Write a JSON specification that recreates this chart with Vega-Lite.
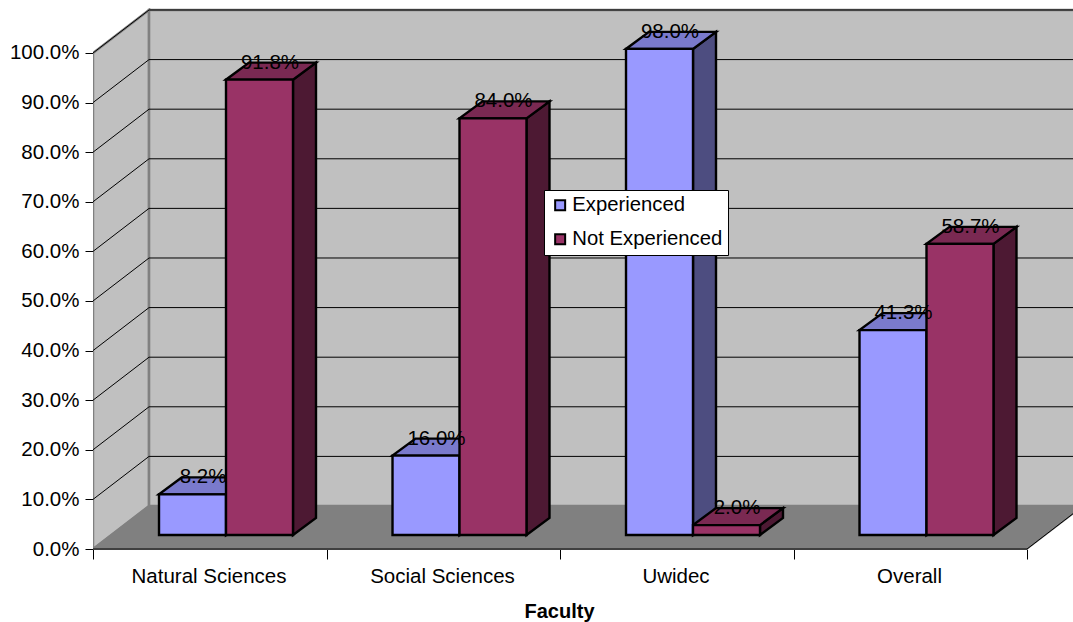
{
  "$schema": "https://vega.github.io/schema/vega-lite/v6.json",
  "width": 980,
  "height": 541,
  "autosize": "none",
  "padding": {"left": 93, "top": 8, "right": 0, "bottom": 73},
  "background": "white",
  "config": {
    "view": {"stroke": null},
    "font": "Liberation Sans"
  },
  "datasets": {
    "bars": [
      {"faculty": "Natural Sciences", "series": "Experienced", "value": 0.082},
      {"faculty": "Natural Sciences", "series": "Not Experienced", "value": 0.918},
      {"faculty": "Social Sciences", "series": "Experienced", "value": 0.16},
      {"faculty": "Social Sciences", "series": "Not Experienced", "value": 0.84},
      {"faculty": "Uwidec", "series": "Experienced", "value": 0.98},
      {"faculty": "Uwidec", "series": "Not Experienced", "value": 0.02},
      {"faculty": "Overall", "series": "Experienced", "value": 0.413},
      {"faculty": "Overall", "series": "Not Experienced", "value": 0.587}
    ],
    "levels": [
      {"level": 0.1}, {"level": 0.2}, {"level": 0.3}, {"level": 0.4}, {"level": 0.5},
      {"level": 0.6}, {"level": 0.7}, {"level": 0.8}, {"level": 0.9}, {"level": 1.0}
    ],
    "depth": [{"t": 0}, {"t": 1}]
  },
  "layer": [
    {
      "description": "Left wall of the box, sheared back by the chart depth",
      "data": {"name": "depth"},
      "transform": [
        {"calculate": "datum.t * 0.24", "as": "wx"},
        {"calculate": "datum.t * 0.0867", "as": "wy0"},
        {"calculate": "1 + datum.t * 0.0867", "as": "wy1"}
      ],
      "mark": {"type": "area", "fill": "#C0C0C0", "stroke": "#808080", "strokeWidth": 2.5, "clip": true},
      "encoding": {
        "x": {
          "field": "wx",
          "type": "quantitative",
          "scale": {"domain": [0, 4.197], "nice": false, "zero": false},
          "axis": {
            "title": "Faculty",
            "titleFont": "Liberation Sans",
            "titleFontSize": 20,
            "titleFontWeight": "bold",
            "titleColor": "#000000",
            "titlePadding": 15,
            "titleX": 466,
            "titleAnchor": "middle",
            "titleAlign": "center",
            "values": [0, 1, 2, 3, 4],
            "domain": false,
            "grid": false,
            "tickColor": "#000000",
            "tickSize": 10,
            "labelFont": "Liberation Sans",
            "labelFontSize": 20.5,
            "labelColor": "#000000",
            "labelPadding": 7,
            "labelOffset": 115.5,
            "labelBound": false,
            "labelFlush": false,
            "labelOverlap": false,
            "labelExpr": "['Natural Sciences','Social Sciences','Uwidec','Overall',''][datum.value]"
          }
        },
        "y": {
          "field": "wy0",
          "type": "quantitative",
          "stack": null,
          "scale": {"domain": [0, 1.0907], "nice": false, "zero": false},
          "axis": {
            "title": null,
            "values": [0, 0.1, 0.2, 0.3, 0.4, 0.5, 0.6, 0.7, 0.8, 0.9, 1],
            "format": ".1%",
            "domain": false,
            "grid": false,
            "tickColor": "#000000",
            "tickSize": 8,
            "labelFont": "Liberation Sans",
            "labelFontSize": 20.5,
            "labelColor": "#000000",
            "labelPadding": 6
          }
        },
        "y2": {"field": "wy1"}
      }
    },
    {
      "description": "Back wall",
      "data": {"values": [{"x0": 0.24, "x1": 4.24, "y0": 0.0867, "y1": 1.0867}]},
      "mark": {"type": "rect", "fill": "#C0C0C0", "stroke": "#808080", "strokeWidth": 2.5, "clip": true},
      "encoding": {
        "x": {"field": "x0", "type": "quantitative"},
        "x2": {"field": "x1"},
        "y": {"field": "y0", "type": "quantitative"},
        "y2": {"field": "y1"}
      }
    },
    {
      "description": "Floor of the box",
      "data": {"name": "depth"},
      "transform": [
        {"calculate": "datum.t * 0.24", "as": "fx0"},
        {"calculate": "4 + datum.t * 0.24", "as": "fx1"},
        {"calculate": "datum.t * 0.0867", "as": "fy"}
      ],
      "mark": {"type": "area", "orient": "horizontal", "fill": "#808080", "stroke": "#808080", "strokeWidth": 1.5, "clip": true},
      "encoding": {
        "x": {"field": "fx0", "type": "quantitative", "stack": null},
        "x2": {"field": "fx1"},
        "y": {"field": "fy", "type": "quantitative"}
      }
    },
    {
      "description": "Gridlines running back along the left wall",
      "data": {"name": "levels"},
      "transform": [
        {"calculate": "0", "as": "front"},
        {"calculate": "0.24", "as": "wall"},
        {"calculate": "datum.level + 0.0867", "as": "back"}
      ],
      "mark": {"type": "rule", "color": "#000000", "strokeWidth": 1},
      "encoding": {
        "x": {"field": "front", "type": "quantitative"},
        "x2": {"field": "wall"},
        "y": {"field": "level", "type": "quantitative"},
        "y2": {"field": "back"}
      }
    },
    {
      "description": "Gridlines across the back wall",
      "data": {"name": "levels"},
      "transform": [
        {"calculate": "0.24", "as": "wall"},
        {"calculate": "4.24", "as": "end"},
        {"calculate": "datum.level + 0.0867", "as": "back"}
      ],
      "mark": {"type": "rule", "color": "#000000", "strokeWidth": 1, "clip": true},
      "encoding": {
        "x": {"field": "wall", "type": "quantitative"},
        "x2": {"field": "end"},
        "y": {"field": "back", "type": "quantitative"}
      }
    },
    {
      "description": "Front edge of the floor",
      "data": {"values": [{"level": 0, "x0": 0, "x1": 4}]},
      "mark": {"type": "rule", "color": "#404040", "strokeWidth": 2},
      "encoding": {
        "x": {"field": "x0", "type": "quantitative"},
        "x2": {"field": "x1"},
        "y": {"field": "level", "type": "quantitative"}
      }
    },
    {
      "description": "Right edge of the floor",
      "data": {"values": [{"level": 0, "back": 0.0867, "x0": 4, "x1": 4.24}]},
      "mark": {"type": "rule", "color": "#000000", "strokeWidth": 1, "clip": true},
      "encoding": {
        "x": {"field": "x0", "type": "quantitative"},
        "x2": {"field": "x1"},
        "y": {"field": "level", "type": "quantitative"},
        "y2": {"field": "back"}
      }
    },
    {
      "description": "Bars: side faces, then tops, then fronts, then value labels",
      "data": {"name": "bars"},
      "transform": [
        {"calculate": "indexof(['Natural Sciences','Social Sciences','Uwidec','Overall'], datum.faculty)", "as": "i"},
        {"calculate": "datum.series === 'Experienced' ? 0 : 1", "as": "s"},
        {"calculate": "datum.i + 0.2827 + datum.s * 0.2869", "as": "xl"},
        {"calculate": "datum.xl + 0.2869", "as": "xr"},
        {"calculate": "0.0282", "as": "base"},
        {"calculate": "datum.base + datum.value", "as": "top"},
        {"calculate": "[0, 1]", "as": "t"},
        {"flatten": ["t"]},
        {"calculate": "datum.xl + datum.t * 0.0985", "as": "backL"},
        {"calculate": "datum.xr + datum.t * 0.0985", "as": "backR"},
        {"calculate": "datum.base + datum.t * 0.0343", "as": "backBase"},
        {"calculate": "datum.top + datum.t * 0.0343", "as": "backTop"},
        {"calculate": "(datum.xl + datum.xr) / 2", "as": "xmid"}
      ],
      "layer": [
        {
          "mark": {"type": "area", "stroke": "#000000", "strokeWidth": 2.4, "strokeJoin": "miter"},
          "encoding": {
            "detail": [{"field": "faculty"}, {"field": "series"}],
            "x": {"field": "backR", "type": "quantitative"},
            "y": {"field": "backBase", "type": "quantitative", "stack": null},
            "y2": {"field": "backTop"},
            "fill": {"condition": {"test": "datum.series === 'Experienced'", "value": "#4D4D80"}, "value": "#4D1933"}
          }
        },
        {
          "mark": {"type": "area", "orient": "horizontal", "stroke": "#000000", "strokeWidth": 2.4, "strokeJoin": "miter"},
          "encoding": {
            "detail": [{"field": "faculty"}, {"field": "series"}],
            "x": {"field": "backL", "type": "quantitative", "stack": null},
            "x2": {"field": "backR"},
            "y": {"field": "backTop", "type": "quantitative"},
            "fill": {"condition": {"test": "datum.series === 'Experienced'", "value": "#7A7ACC"}, "value": "#7A2952"}
          }
        },
        {
          "transform": [{"filter": "datum.t === 0"}],
          "mark": {"type": "rect", "stroke": "#000000", "strokeWidth": 2.4, "strokeJoin": "miter"},
          "encoding": {
            "x": {"field": "xl", "type": "quantitative"},
            "x2": {"field": "xr"},
            "y": {"field": "base", "type": "quantitative"},
            "y2": {"field": "top"},
            "fill": {
              "field": "series",
              "type": "nominal",
              "scale": {"domain": ["Experienced", "Not Experienced"], "range": ["#9999FF", "#993366"]},
              "legend": {
                "title": null,
                "orient": "none",
                "legendX": 451,
                "legendY": 182,
                "fillColor": "#FFFFFF",
                "strokeColor": "#000000",
                "padding": 5,
                "rowPadding": 13,
                "symbolType": "square",
                "symbolSize": 100,
                "symbolOffset": 1,
                "symbolStrokeColor": "#000000",
                "symbolStrokeWidth": 2,
                "labelFont": "Liberation Sans",
                "labelFontSize": 20.3,
                "labelColor": "#000000",
                "labelOffset": 2,
                "labelLimit": 300
              }
            }
          }
        },
        {
          "transform": [{"filter": "datum.t === 0"}],
          "mark": {"type": "text", "font": "Liberation Sans", "fontSize": 20.5, "color": "#000000", "dx": 10.5, "dy": -17, "baseline": "middle", "align": "center"},
          "encoding": {
            "x": {"field": "xmid", "type": "quantitative"},
            "y": {"field": "top", "type": "quantitative"},
            "text": {"field": "value", "type": "quantitative", "format": ".1%"}
          }
        }
      ]
    }
  ]
}
